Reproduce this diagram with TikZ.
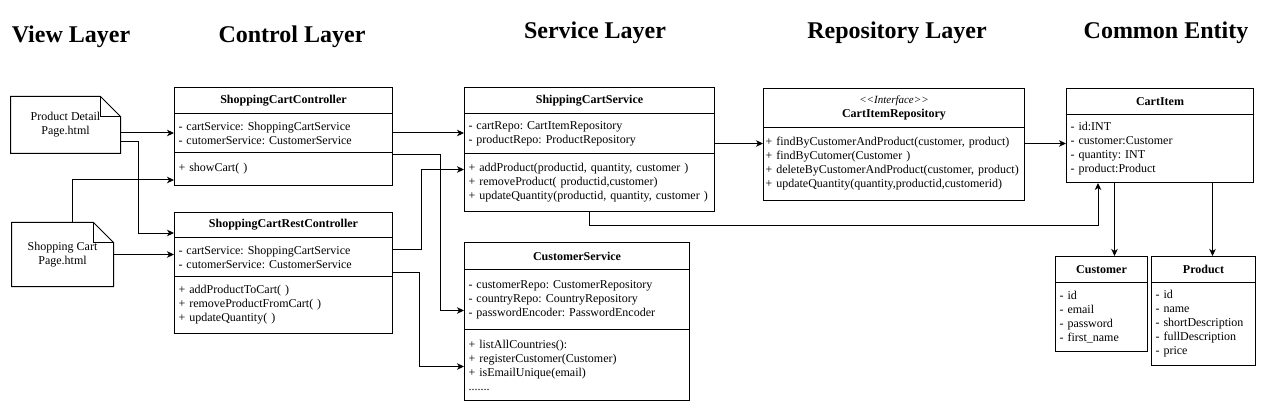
\documentclass[tikz,border=0pt]{standalone}
\usepackage{fontspec}
\setmainfont{Liberation Serif}
\frenchspacing
\usetikzlibrary{arrows.meta}

\begin{document}
\begin{tikzpicture}[x=1pt, y=-1pt, line width=1pt,
    layer/.style={anchor=base, font=\fontsize{24}{28}\selectfont\bfseries},
    head/.style={draw, anchor=north west, inner xsep=4pt, inner ysep=0pt, align=center, font=\fontsize{12}{14}\selectfont\bfseries},
    part/.style={draw, anchor=north west, inner xsep=4pt, inner ysep=0pt, align=left, font=\fontsize{12}{14}\selectfont},
    page/.style={inner sep=0pt, align=center, font=\fontsize{12}{14}\selectfont},
    arr/.style={-{Stealth[length=7pt, width=6.5pt, inset=2pt]}}]
                            \useasboundingbox (0,0) rectangle (1266,414);

                            \node (viewtitle)[layer] at (71, 43) {View Layer};
                            \node (ctrltitle)[layer] at (292, 43) {Control Layer};
                            \node (svctitle)[layer] at (595, 39) {Service Layer};
                            \node (repotitle)[layer] at (897, 39) {Repository Layer};
                            \node (entitytitle)[layer] at (1166, 39) {Common Entity};

                            \node (pdpage)[page, minimum width=109pt, minimum height=56pt] at (65.5, 125) {Product Detail\\Page.html};
                            \node (scpage)[page, minimum width=101pt, minimum height=63pt] at (62.5, 254.5) {Shopping Cart\\Page.html};
                            \draw (pdpage.south west) -- (pdpage.north west) -- ([xshift=-20pt]pdpage.north east) -- ([yshift=-20pt]pdpage.north east) -- (pdpage.south east) -- cycle;
                            \draw ([xshift=-20pt]pdpage.north east) -- ([xshift=-20pt, yshift=-20pt]pdpage.north east) -- ([yshift=-20pt]pdpage.north east);
                            \draw (scpage.south west) -- (scpage.north west) -- ([xshift=-20pt]scpage.north east) -- ([yshift=-20pt]scpage.north east) -- (scpage.south east) -- cycle;
                            \draw ([xshift=-20pt]scpage.north east) -- ([xshift=-20pt, yshift=-20pt]scpage.north east) -- ([yshift=-20pt]scpage.north east);

                            \node (ctrlhead)[head, text width=210pt, minimum height=26pt] at (174, 87) {ShoppingCartController};
                            \node (ctrlattr)[part, text width=210pt, minimum height=39pt] at (174, 113) {- cartService: ShoppingCartService\\- cutomerService: CustomerService};
                            \node (ctrlmeth)[part, text width=210pt, minimum height=33pt] at (174, 152) {+ showCart( )};

                            \node (resthead)[head, text width=210pt, minimum height=25pt] at (174, 212) {ShoppingCartRestController};
                            \node (restattr)[part, text width=210pt, minimum height=39pt] at (174, 237) {- cartService: ShoppingCartService\\- cutomerService: CustomerService};
                            \node (restmeth)[part, text width=210pt, minimum height=57pt] at (174, 276) {+ addProductToCart( )\\+ removeProductFromCart( )\\+ updateQuantity( )};

                            \node (svchead)[head, text width=242pt, minimum height=26pt] at (464, 87) {ShippingCartService};
                            \node (svcattr)[part, text width=242pt, minimum height=40pt] at (464, 113) {- cartRepo: CartItemRepository\\- productRepo: ProductRepository};
                            \node (svcmeth)[part, text width=242pt, minimum height=58pt] at (464, 153) {+ addProduct(productid, quantity, customer )\\+ removeProduct( productid,customer)\\+ updateQuantity(productid, quantity, customer )};

                            \node (custhead)[head, text width=217pt, minimum height=27pt] at (464, 242) {CustomerService};
                            \node (custattr)[part, text width=217pt, minimum height=60pt] at (464, 269) {- customerRepo: CustomerRepository\\- countryRepo: CountryRepository\\- passwordEncoder: PasswordEncoder};
                            \node (custmeth)[part, text width=217pt, minimum height=71pt] at (464, 329) {+ listAllCountries():\\+ registerCustomer(Customer)\\+ isEmailUnique(email)\\.......};

                            \node (repohead)[head, text width=253pt, minimum height=39pt] at (763, 88) {{\fontsize{11}{13}\selectfont\mdseries\itshape <\kern0pt<Interface>\kern0pt>}\\CartItemRepository};
                            \node (repometh)[part, inner xsep=2pt, text width=257pt, minimum height=73pt] at (763, 127) {+ findByCustomerAndProduct(customer, product)\\+ findByCutomer(Customer )\\+ deleteByCustomerAndProduct(customer, product)\\+ updateQuantity(quantity,productid,customerid)};

                            \node (itemhead)[head, text width=179pt, minimum height=26pt] at (1066, 88) {CartItem};
                            \node (itemattr)[part, text width=179pt, minimum height=68pt] at (1066, 114) {- id:INT\\- customer:Customer\\- quantity: INT\\- product:Product};
                            \node (cushead)[head, text width=84pt, minimum height=26pt] at (1055, 256) {Customer};
                            \node (cusattr)[part, text width=84pt, minimum height=69pt] at (1055, 282) {- id\\- email\\- password\\- first\_name};
                            \node (prodhead)[head, text width=96pt, minimum height=26pt] at (1151, 256) {Product};
                            \node (prodattr)[part, text width=96pt, minimum height=83pt] at (1151, 282) {- id\\- name\\- shortDescription\\- fullDescription\\- price};

                            \coordinate (repoline) at ([yshift=-10pt]svcattr.east);
                            \coordinate (cusin) at ([xshift=13pt]cushead.north);
                            \coordinate (prodin) at ([xshift=9pt]prodhead.north);

                            \draw [arr] (pdpage.east |- ctrlattr.west) -- (ctrlattr.west);
                            \draw [arr] ([yshift=-17pt]pdpage.east) -- ++(18, 0) |- ([yshift=-8pt]resthead.west);
                            \draw [arr] ([xshift=9.5pt]scpage.north) |- ([yshift=-11pt]ctrlmeth.west);
                            \draw [arr] (scpage.east) -- (scpage.east -| restattr.west);
                            \draw [arr] (ctrlattr.east) -- (ctrlattr.east -| svcattr.west);
                            \draw [arr] ([yshift=-3pt]ctrlmeth.north east) -- ++(47, 0) |- ([yshift=-11pt]custattr.west);
                            \draw [arr] ([yshift=7.5pt]restattr.east) -- ++(28, 0) |- ([yshift=13pt]svcmeth.west);
                            \draw [arr] ([yshift=-15pt]restattr.east) -- ++(26, 0) |- ([yshift=-1.5pt]custmeth.west);
                            \draw [arr] (repoline) -- (repoline -| repometh.west);
                            \draw [arr] (repoline -| repometh.east) -- (repoline -| itemattr.west);
                            \draw [arr] (svcmeth.south) -- ++(0, 14) -| ([xshift=-62pt]itemattr.south);
                            \draw [arr] (cusin |- itemattr.south) -- (cusin);
                            \draw [arr] (prodin |- itemattr.south) -- (prodin);
                        \end{tikzpicture}
\end{document}
